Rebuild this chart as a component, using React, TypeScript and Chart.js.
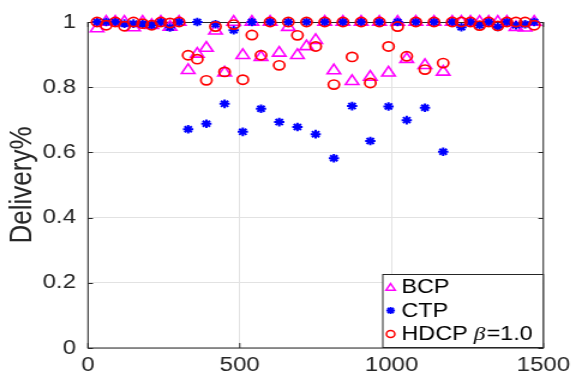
import React, { useEffect, useRef } from 'react';
import { Chart, registerables } from 'chart.js';

Chart.register(...registerables);

// ---- data ----
const xValues = [
  30, 60, 90, 120, 150, 180, 210, 240, 270, 300,
  330, 360, 390, 420, 450, 480, 510, 540, 570, 600,
  630, 660, 690, 720, 750, 780, 810, 840, 870, 900,
  930, 960, 990, 1020, 1050, 1080, 1110, 1140, 1170, 1200,
  1230, 1260, 1290, 1320, 1350, 1380, 1410, 1440, 1470,
];
const bcpValues = [
  0.98, 1.0, 1.0, 1.0, 0.983, 1.0, 0.99, 1.0, 0.985, 1.0,
  0.852, 0.902, 0.92, 0.973, 0.844, 1.0, 0.898, 1.0, 0.892, 1.0,
  0.905, 0.984, 0.898, 0.925, 0.944, 1.0, 0.851, 1.0, 0.818, 1.0,
  0.831, 1.0, 0.844, 1.0, 0.886, 1.0, 0.867, 1.0, 0.847, 1.0,
  1.0, 1.0, 1.0, 1.0, 1.0, 1.0, 0.984, 0.982, 1.0,
];
const ctpValues = [
  1.0, 1.0, 1.0, 0.995, 0.995, 0.995, 0.99, 1.0, 0.983, 1.0,
  0.671, 1.0, 0.688, 0.993, 0.749, 0.975, 0.663, 1.0, 0.734, 1.0,
  0.693, 1.0, 0.678, 1.0, 0.656, 1.0, 0.582, 1.0, 0.742, 1.0,
  0.635, 1.0, 0.741, 1.0, 0.699, 1.0, 0.737, 1.0, 0.602, 1.0,
  0.984, 1.0, 0.99, 1.0, 0.985, 1.0, 0.99, 0.993, 1.0,
];
const hdcpValues = [
  1.0, 0.99, 1.0, 0.987, 1.0, 0.995, 0.99, 1.0, 0.997, 1.0,
  0.898, 0.886, 0.821, 0.986, 0.847, 0.992, 0.823, 0.96, 0.898, 1.0,
  0.867, 1.0, 0.959, 1.0, 0.925, 1.0, 0.808, 1.0, 0.893, 1.0,
  0.813, 1.0, 0.925, 0.986, 0.895, 1.0, 0.854, 1.0, 0.874, 1.0,
  1.0, 1.0, 0.989, 1.0, 0.988, 1.0, 1.0, 1.0, 0.99,
];
const xTicks = [0, 500, 1000, 1500];
const yTicks = [0, 0.2, 0.4, 0.6, 0.8, 1];
const seriesNames = ['BCP', 'CTP', 'HDCP'];
const betaLabel = 'β';
const betaValue = '=1.0';
const yTitle = 'Delivery%';

const MAGENTA = '#ff00ff';
const BLUE = '#0000ff';
const RED = '#ff0000';
const AXIS = '#262626';

// internal canvas size, stretched horizontally to 576 by CSS
const W = 480;
const H = 377;
const SX = 576 / W;

function toPoints(ys: number[]) {
  return xValues.map((x, i) => ({ x, y: ys[i] }));
}

function drawMarker(ctx: CanvasRenderingContext2D, kind: string, x: number, y: number, r: number, color: string) {
  ctx.save();
  ctx.strokeStyle = color;
  ctx.lineWidth = kind === 'star' ? 1.8 : 1.5;
  ctx.beginPath();
  if (kind === 'triangle') {
    for (let k = 0; k < 3; k++) {
      const a = (k * 2 * Math.PI) / 3;
      const px = x + Math.sin(a) * r;
      const py = y - Math.cos(a) * r;
      if (k === 0) ctx.moveTo(px, py);
      else ctx.lineTo(px, py);
    }
    ctx.closePath();
  } else if (kind === 'star') {
    for (let k = 0; k < 4; k++) {
      const a = (k * Math.PI) / 4;
      ctx.moveTo(x - Math.cos(a) * r, y - Math.sin(a) * r);
      ctx.lineTo(x + Math.cos(a) * r, y + Math.sin(a) * r);
    }
  } else {
    ctx.arc(x, y, r, 0, Math.PI * 2);
  }
  ctx.stroke();
  ctx.restore();
}

const frameAndTicks = {
  id: 'frameAndTicks',
  beforeDatasetsDraw(chart: any) {
    const { ctx, chartArea } = chart;
    const { left, right, top, bottom } = chartArea;
    const xs = chart.scales.x;
    const ys = chart.scales.y;
    ctx.save();
    ctx.strokeStyle = AXIS;
    ctx.lineWidth = 1;
    ctx.strokeRect(left, top + 0.5, right - left, bottom - top - 0.5);
    ctx.beginPath();
    const tl = 5;
    for (const v of yTicks) {
      const py = Math.round(ys.getPixelForValue(v)) + 0.5;
      ctx.moveTo(left, py);
      ctx.lineTo(left + tl / SX, py);
      ctx.moveTo(right, py);
      ctx.lineTo(right - tl / SX, py);
    }
    for (const v of xTicks) {
      const px = xs.getPixelForValue(v);
      ctx.moveTo(px, bottom);
      ctx.lineTo(px, bottom - tl);
      ctx.moveTo(px, top);
      ctx.lineTo(px, top + tl);
    }
    ctx.stroke();
    ctx.restore();
  },
};

const legendBox = {
  id: 'legendBox',
  afterDraw(chart: any) {
    const { ctx, chartArea } = chart;
    const bx0 = 319;
    const bx1 = chartArea.right;
    const by0 = 274;
    const by1 = 347;
    ctx.save();
    ctx.fillStyle = '#ffffff';
    ctx.fillRect(bx0, by0, bx1 - bx0, by1 - by0);
    ctx.strokeStyle = AXIS;
    ctx.lineWidth = 1;
    ctx.strokeRect(bx0, by0 + 0.5, bx1 - bx0, by1 - by0);
    const rows = [287, 310.5, 334];
    const kinds = ['triangle', 'star', 'circle'];
    const colors = [MAGENTA, BLUE, RED];
    const radii = [4.4, 3.6, 3.5];
    const mx = 325.5;
    const tx = 334.5;
    ctx.textBaseline = 'middle';
    ctx.textAlign = 'left';
    seriesNames.forEach((name, i) => {
      const yy = rows[i];
      drawMarker(ctx, kinds[i], mx, kinds[i] === 'triangle' ? yy + 1 : yy, radii[i], colors[i]);
      ctx.fillStyle = '#000000';
      ctx.font = '19.5px "Liberation Sans", Arial, sans-serif';
      ctx.fillText(name, tx, yy + 1);
      if (i === 2) {
        let cx = tx + ctx.measureText(name).width + 5;
        ctx.font = 'italic 19.5px "Liberation Serif", serif';
        ctx.fillText(betaLabel, cx, yy + 1);
        cx += ctx.measureText(betaLabel).width + 1;
        ctx.font = '19.5px "Liberation Sans", Arial, sans-serif';
        ctx.fillText(betaValue, cx, yy + 1);
      }
    });
    ctx.restore();
  },
};

export default function App() {
  const ref = useRef<HTMLCanvasElement>(null);

  useEffect(() => {
    document.body.style.margin = '0';
    const canvas = ref.current;
    if (!canvas) return;
    Chart.defaults.font.family = '"Liberation Sans", Arial, Helvetica, sans-serif';
    const chart = new Chart(canvas, {
      type: 'scatter',
      data: {
        datasets: [
          {
            label: seriesNames[0],
            data: toPoints(bcpValues),
            pointStyle: 'triangle',
            pointRadius: 6.4,
            pointBorderWidth: 1.6,
            borderColor: MAGENTA,
            backgroundColor: 'rgba(0,0,0,0)',
            pointBackgroundColor: 'rgba(0,0,0,0)',
            order: 3,
            clip: false,
          } as any,
          {
            label: seriesNames[1],
            data: toPoints(ctpValues),
            pointStyle: 'star',
            pointRadius: 4.3,
            pointBorderWidth: 2,
            borderColor: BLUE,
            backgroundColor: BLUE,
            order: 2,
            clip: false,
          } as any,
          {
            label: seriesNames[2],
            data: toPoints(hdcpValues),
            pointStyle: 'circle',
            pointRadius: 4.6,
            pointBorderWidth: 1.7,
            borderColor: RED,
            backgroundColor: 'rgba(0,0,0,0)',
            pointBackgroundColor: 'rgba(0,0,0,0)',
            order: 1,
            clip: false,
          } as any,
        ],
      },
      options: {
        responsive: false,
        devicePixelRatio: 1,
        animation: false,
        events: [],
        layout: { padding: { top: 20, right: 22, left: 0, bottom: 0 } },
        plugins: {
          legend: { display: false },
          tooltip: { enabled: false },
        },
        scales: {
          x: {
            type: 'linear',
            min: 0,
            max: 1500,
            afterBuildTicks: (scale: any) => {
              scale.ticks = xTicks.map((v) => ({ value: v }));
            },
            afterFit: (scale: any) => {
              scale.height = 29;
            },
            ticks: {
              padding: 5,
              color: AXIS,
              font: { size: 20 },
              maxRotation: 0,
              callback: (v: any) => String(v),
            },
            grid: { color: '#e2e2e2', drawTicks: false, lineWidth: 1 },
            border: { display: false },
          },
          y: {
            type: 'linear',
            min: 0,
            max: 1,
            afterBuildTicks: (scale: any) => {
              scale.ticks = yTicks.map((v) => ({ value: v }));
            },
            afterFit: (scale: any) => {
              scale.width = 73.3;
            },
            ticks: {
              padding: 10,
              color: AXIS,
              font: { size: 20 },
              callback: (v: any) => String(v),
            },
            grid: { color: '#e2e2e2', drawTicks: false, lineWidth: 1 },
            border: { display: false },
            title: {
              display: true,
              text: yTitle,
              color: AXIS,
              font: { size: 26 },
              padding: { top: 3, bottom: 0 },
            },
          },
        },
      },
      plugins: [frameAndTicks, legendBox],
    } as any);
    return () => chart.destroy();
  }, []);

  return (
    <div style={{ position: 'fixed', left: 0, top: 0, width: 576, height: 377, background: '#ffffff' }}>
      <canvas
        ref={ref}
        width={W}
        height={H}
        style={{ width: '576px', height: '377px', display: 'block' }}
      />
    </div>
  );
}
